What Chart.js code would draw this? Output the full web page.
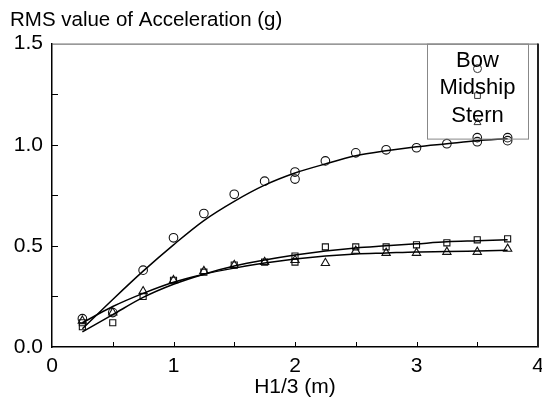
<!DOCTYPE html>
<html>
<head>
<meta charset="utf-8">
<script src="https://cdn.jsdelivr.net/npm/chart.js@4.4.1/dist/chart.umd.min.js"></script>
<style>
html, body { margin: 0; padding: 0; background: #ffffff; }
#wrap { width: 542px; height: 400px; }
</style>
</head>
<body>
<div id="wrap"><canvas id="grafico" width="542" height="400"></canvas></div>
<script>
// DATOS - medidas (puntos) y curvas ajustadas
var serieNombres = ["Bow", "Midship", "Stern"];

var bowX = [0.25, 0.5, 0.75, 1, 1.25, 1.5, 1.75, 2, 2, 2.25, 2.5, 2.75, 3, 3.25, 3.5, 3.5, 3.75, 3.75];
var bowY = [0.14, 0.17, 0.38, 0.54, 0.66, 0.755, 0.82, 0.865, 0.83, 0.92, 0.96, 0.975, 0.985, 1.005, 1.035, 1.015, 1.035, 1.02];

var midX = [0.25, 0.25, 0.5, 0.75, 1, 1.25, 1.5, 1.75, 2, 2, 2.25, 2.5, 2.75, 3, 3.25, 3.5, 3.75];
var midY = [0.12, 0.10, 0.12, 0.25, 0.33, 0.37, 0.405, 0.42, 0.45, 0.42, 0.495, 0.495, 0.495, 0.505, 0.515, 0.53, 0.535];

var sternX = [0.25, 0.5, 0.75, 1, 1.25, 1.5, 1.75, 2, 2.25, 2.5, 2.75, 3, 3.25, 3.5, 3.75];
var sternY = [0.13, 0.17, 0.275, 0.33, 0.375, 0.405, 0.42, 0.43, 0.415, 0.475, 0.465, 0.465, 0.47, 0.47, 0.485];

// curvas ajustadas
var fitX = [0.25, 0.5, 0.75, 1, 1.25, 1.5, 1.75, 2, 2.25, 2.5, 2.75, 3, 3.25, 3.5, 3.75];
var bowFit = [0.09, 0.235, 0.375, 0.505, 0.625, 0.72, 0.80, 0.86, 0.905, 0.945, 0.97, 0.99, 1.005, 1.02, 1.03];
var midFit = [0.075, 0.16, 0.245, 0.31, 0.36, 0.40, 0.43, 0.455, 0.475, 0.49, 0.50, 0.51, 0.52, 0.525, 0.53];
var sternFit = [0.12, 0.20, 0.265, 0.32, 0.36, 0.39, 0.415, 0.435, 0.45, 0.46, 0.465, 0.47, 0.472, 0.475, 0.478];

var yTicks = [0, 0.5, 1.0, 1.5];
var xTicks = [0, 1, 2, 3, 4];

var FUENTE = "'Liberation Sans', Arial, Helvetica, sans-serif";

function pares(xs, ys) {
    var out = [];
    for (var i = 0; i < xs.length; i += 1) {
        out.push({x: xs[i], y: ys[i]});
    }
    return out;
}

function puntos(label, xs, ys, estilo) {
    return {
        label: label,
        data: pares(xs, ys),
        showLine: false,
        pointStyle: estilo,
        pointRadius: estilo === "triangle" ? 4.8 : 4.3,
        pointBorderWidth: 1.1,
        pointBorderColor: "#111",
        pointBackgroundColor: "rgba(255,255,255,0)"
    };
}

function curva(label, ys) {
    return {
        label: label + " fit",
        data: pares(fitX, ys),
        showLine: true,
        pointRadius: 0,
        borderColor: "#000",
        borderWidth: 1.5,
        tension: 0.4,
        cubicInterpolationMode: "monotone",
        fill: false
    };
}

function sinMargen(scale) {
    scale.paddingLeft = 0;
    scale.paddingRight = 0;
    scale.paddingTop = 0;
    scale.paddingBottom = 0;
}

// Marco, ticks hacia dentro y leyenda
var marcoPlugin = {
    id: "marco",
    afterDraw: function (chart) {
        var ctx = chart.ctx;
        var a = chart.chartArea;
        var xs = chart.scales.x;
        var ys = chart.scales.y;
        var v;
        ctx.save();
        // borde superior y derecho
        ctx.strokeStyle = "#555";
        ctx.lineWidth = 1;
        ctx.beginPath();
        ctx.moveTo(a.left, a.top + 0.5);
        ctx.lineTo(a.right, a.top + 0.5);
        ctx.stroke();
        ctx.strokeStyle = "#222";
        ctx.lineWidth = 2;
        ctx.beginPath();
        ctx.moveTo(a.right, a.top);
        ctx.lineTo(a.right, a.bottom);
        ctx.stroke();

        // ticks hacia dentro
        ctx.strokeStyle = "#000";
        ctx.lineWidth = 1;
        ctx.beginPath();
        for (v = 0.25; v < 1.5; v += 0.25) {
            var py = Math.round(ys.getPixelForValue(v)) + 0.5;
            ctx.moveTo(a.left, py);
            ctx.lineTo(a.left + 6, py);
        }
        for (v = 0.5; v < 4; v += 0.5) {
            var px = Math.round(xs.getPixelForValue(v)) + 0.5;
            ctx.moveTo(px, a.bottom);
            ctx.lineTo(px, a.bottom - 5);
        }
        ctx.stroke();

        // leyenda
        var lx = a.right - 111;
        var lw = 101;
        var ly = a.top;
        var lh = 95;
        ctx.strokeStyle = "#888";
        ctx.lineWidth = 1;
        ctx.strokeRect(lx + 0.5, ly + 0.5, lw, lh);
        var cx = lx + lw / 2;
        var estilos = ["circle", "rect", "triangle"];
        var i;
        ctx.fillStyle = "rgba(255,255,255,0)";
        ctx.strokeStyle = "#333";
        for (i = 0; i < serieNombres.length; i += 1) {
            Chart.helpers.drawPoint(ctx, {
                pointStyle: estilos[i],
                radius: 4,
                borderWidth: 1
            }, cx, ly + 25 + i * 27);
        }
        ctx.fillStyle = "#000";
        ctx.font = "22px " + FUENTE;
        ctx.textAlign = "center";
        ctx.textBaseline = "middle";
        for (i = 0; i < serieNombres.length; i += 1) {
            ctx.fillText(serieNombres[i], cx, ly + 17 + i * 27.5);
        }
        ctx.restore();
    }
};

function cargaGrafico() {
    "use strict";
    Chart.defaults.font.family = FUENTE;
    Chart.defaults.color = "#000";

    var config = {
        type: "scatter",
        data: {
            datasets: [
                curva(serieNombres[0], bowFit),
                curva(serieNombres[1], midFit),
                curva(serieNombres[2], sternFit),
                puntos(serieNombres[0], bowX, bowY, "circle"),
                puntos(serieNombres[1], midX, midY, "rect"),
                puntos(serieNombres[2], sternX, sternY, "triangle")
            ]
        },
        options: {
            responsive: false,
            animation: false,
            devicePixelRatio: 1,
            layout: {
                autoPadding: false,
                padding: {left: 10, right: 4, top: 0, bottom: 0}
            },
            plugins: {
                legend: {display: false},
                tooltip: {enabled: false},
                title: {
                    display: true,
                    text: "RMS value of Acceleration (g)",
                    align: "start",
                    color: "#000",
                    font: {size: 20.5, weight: "normal"},
                    padding: {top: 8, bottom: 11}
                }
            },
            scales: {
                x: {
                    type: "linear",
                    min: 0,
                    max: 4,
                    afterFit: function (scale) {
                        scale.height = 53;
                        sinMargen(scale);
                    },
                    afterBuildTicks: function (scale) {
                        scale.ticks = xTicks.map(function (t) { return {value: t}; });
                    },
                    ticks: {
                        padding: 7,
                        font: {size: 21},
                        color: "#000",
                        callback: function (v) { return String(v); }
                    },
                    grid: {display: false, drawTicks: false},
                    border: {display: true, color: "#000", width: 1.5},
                    title: {
                        display: true,
                        text: "H1/3 (m)",
                        color: "#000",
                        font: {size: 21},
                        padding: {top: 0, bottom: 0}
                    }
                },
                y: {
                    min: 0,
                    max: 1.5,
                    afterFit: function (scale) {
                        scale.width = 42;
                        sinMargen(scale);
                    },
                    afterBuildTicks: function (scale) {
                        scale.ticks = yTicks.map(function (t) { return {value: t}; });
                    },
                    ticks: {
                        padding: 9,
                        font: {size: 21},
                        color: "#000",
                        callback: function (v) { return v.toFixed(1); }
                    },
                    grid: {display: false, drawTicks: false},
                    border: {display: true, color: "#000", width: 1.5}
                }
            }
        },
        plugins: [marcoPlugin]
    };

    new Chart(document.getElementById("grafico").getContext("2d"), config);
}

cargaGrafico();
</script>
</body>
</html>
